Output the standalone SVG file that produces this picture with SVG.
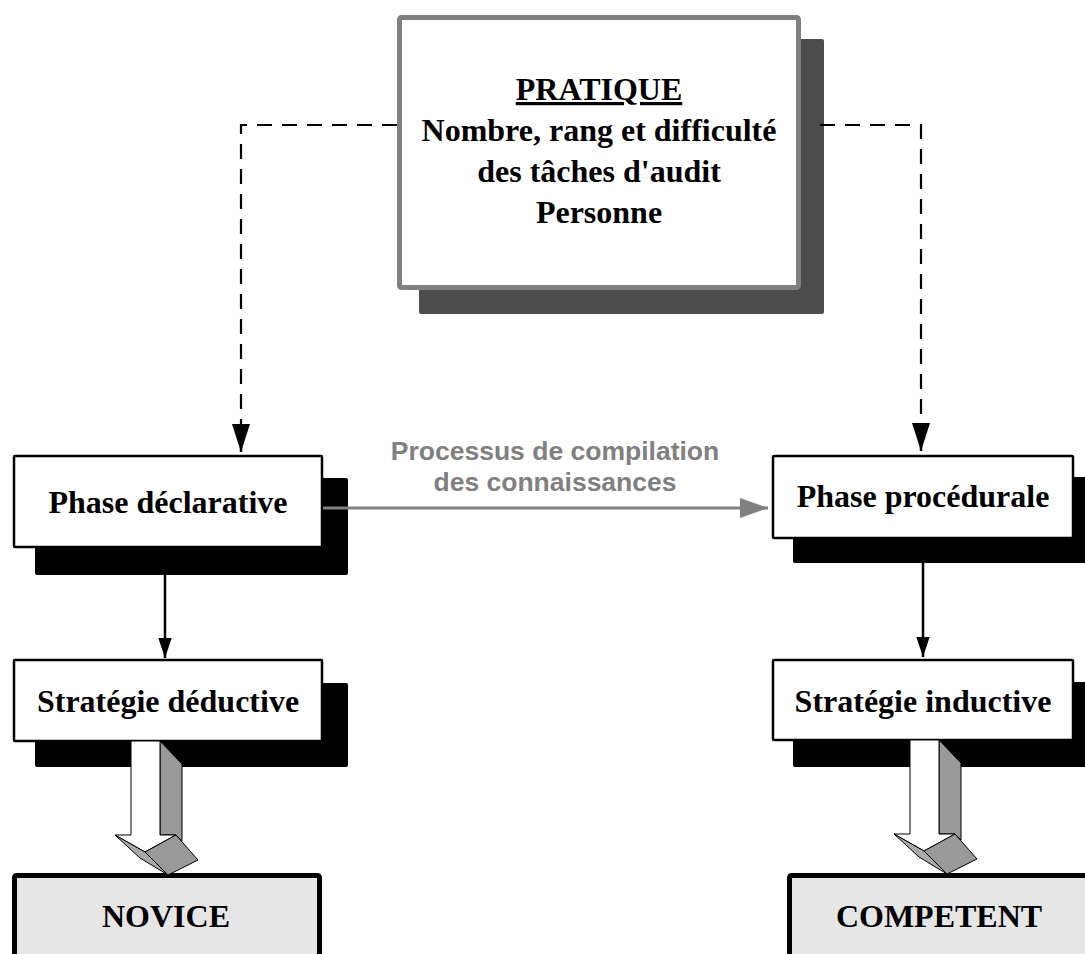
<svg xmlns="http://www.w3.org/2000/svg" width="1085" height="954" viewBox="0 0 1085 954">
<style>
.t{font-family:"Liberation Serif","Times New Roman",serif;font-weight:bold;font-size:32px;fill:#000;text-anchor:middle}
.g{font-family:"Liberation Sans",Arial,sans-serif;font-weight:bold;font-size:26.5px;fill:#808080;text-anchor:middle}
.box{fill:#fff;stroke:#000;stroke-width:2.5}
.sh{fill:#000}
.out{fill:#e6e6e6;stroke:#000;stroke-width:5}
.dash{fill:none;stroke:#000;stroke-width:2.2;stroke-dasharray:15 10}
.ln{fill:none;stroke:#000;stroke-width:2.5}
</style>
<defs>
<marker id="ah" markerUnits="userSpaceOnUse" markerWidth="20" markerHeight="30" refX="30" refY="10" viewBox="0 0 30 20" orient="auto">
<path d="M0,0 L30,10 L0,20 Z" fill="#000"/>
</marker>
<marker id="ahs" markerUnits="userSpaceOnUse" markerWidth="28" markerHeight="18" refX="28" refY="9" viewBox="0 0 28 18" orient="auto">
<path d="M0,0 L28,9 L0,18 Z" fill="#000"/>
</marker>
<marker id="ag" markerUnits="userSpaceOnUse" markerWidth="28" markerHeight="20" refX="28" refY="10" viewBox="0 0 28 20" orient="auto">
<path d="M0,0 L28,10 L0,20 Z" fill="#808080"/>
</marker>
<g id="blk">
<path d="M160,741 L182,764 L182,841 L176,835 L160,835 Z" fill="#999" stroke="#000" stroke-width="1"/>
<path d="M131,741 L131,835 L115,835 L145,852 L176,835 L160,835 L160,741 Z" fill="#fff" stroke="#000" stroke-width="1"/>
<path d="M115,835 L145,852 L168,875 L140,858 Z" fill="#aaa" stroke="#000" stroke-width="1"/>
<path d="M145,852 L176,835 L198,860 L168,875 Z" fill="#999" stroke="#000" stroke-width="1"/>
</g>
</defs>
<g id="pratique">
<rect x="419" y="39" width="405" height="275" rx="2" fill="#4d4d4d"/>
<rect x="399.5" y="17.5" width="399" height="270" rx="2" fill="#fff" stroke="#808080" stroke-width="5"/>
<text x="599" y="100" class="t" text-decoration="underline">PRATIQUE</text>
<text x="599" y="141" class="t">Nombre, rang et difficulté</text>
<text x="599" y="182" class="t">des tâches d'audit</text>
<text x="599" y="223" class="t">Personne</text>
</g>
<g id="compilation">
<text x="555" y="460" class="g">Processus de compilation</text>
<text x="555" y="491" class="g">des connaissances</text>
</g>
<g id="phase-declarative">
<rect x="35" y="478" width="313" height="97" rx="2" class="sh"/>
<rect x="14" y="456" width="308" height="91" rx="1" class="box"/>
<text x="168" y="513" class="t">Phase déclarative</text>
</g>
<g id="phase-procedurale">
<rect x="793" y="477" width="300" height="86" rx="2" class="sh"/>
<rect x="773" y="456" width="300" height="82" rx="1" class="box"/>
<text x="923" y="507" class="t">Phase procédurale</text>
</g>
<g id="strategie-deductive">
<rect x="35" y="683" width="313" height="84" rx="2" class="sh"/>
<rect x="14" y="660" width="308" height="81" rx="1" class="box"/>
<text x="168" y="712" class="t">Stratégie déductive</text>
</g>
<g id="strategie-inductive">
<rect x="793" y="682" width="300" height="85" rx="2" class="sh"/>
<rect x="773" y="660" width="300" height="80" rx="1" class="box"/>
<text x="923" y="712" class="t">Stratégie inductive</text>
</g>
<g id="novice">
<rect x="14.5" y="875.5" width="305" height="90" rx="2" class="out"/>
<text x="166" y="927" class="t">NOVICE</text>
</g>
<g id="competent">
<rect x="789.5" y="875.5" width="310" height="90" rx="2" class="out"/>
<text x="939" y="927" class="t">COMPETENT</text>
</g>
<g id="connectors">
<path class="dash" d="M397,125 H241 V437"/>
<line x1="241" y1="430" x2="241" y2="452" class="ln" stroke-width="2" marker-end="url(#ahs)"/>
<path class="dash" d="M820,125 H921 V437"/>
<line x1="921" y1="430" x2="921" y2="451" class="ln" stroke-width="2" marker-end="url(#ahs)"/>
<line x1="165" y1="575" x2="165" y2="658" class="ln" marker-end="url(#ah)"/>
<line x1="923" y1="563" x2="923" y2="657" class="ln" marker-end="url(#ah)"/>
<line x1="323" y1="508" x2="768" y2="508" stroke="#808080" stroke-width="3" marker-end="url(#ag)"/>
<use href="#blk"/>
<use href="#blk" transform="translate(779,-1)"/>
</g>
</svg>
